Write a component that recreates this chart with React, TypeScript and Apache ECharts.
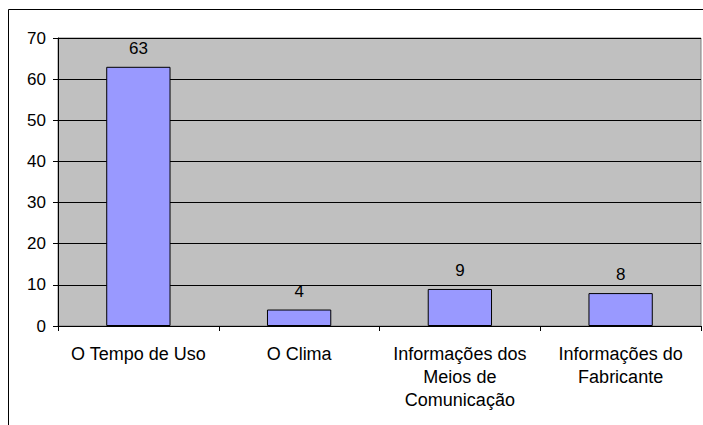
import React, { useEffect, useRef } from "react";
import * as echarts from "echarts";

// Fatores citados (quebras de linha como no rótulo do eixo)
const categories = [
  "O Tempo de Uso",
  "O Clima",
  "Informações dos\nMeios de\nComunicação",
  "Informações do\nFabricante",
];
const values = [63, 4, 9, 8];
const yTicks = { min: 0, max: 70, interval: 10 };

const FONT = "'Liberation Sans', Arial, sans-serif";

export default function App() {
  const ref = useRef<HTMLDivElement>(null);

  useEffect(() => {
    if (!ref.current) return;
    const chart = echarts.init(ref.current, undefined, { renderer: "svg" });
    chart.setOption({
      animation: false,
      backgroundColor: "#ffffff",
      textStyle: { fontFamily: FONT },
      graphic: [
        {
          type: "rect",
          shape: { x: 8.5, y: 9.5, width: 720, height: 440 },
          style: { fill: "none", stroke: "#000", lineWidth: 1 },
          silent: true,
        },
      ],
      grid: {
        left: 58,
        top: 38,
        right: 2,
        bottom: 99,
        show: true,
        backgroundColor: "#C0C0C0",
        borderColor: "#808080",
        borderWidth: 1,
      },
      xAxis: {
        type: "category",
        data: categories,
        boundaryGap: true,
        axisLine: { show: true, lineStyle: { color: "#000", width: 1 } },
        axisTick: { show: true, length: 5, lineStyle: { color: "#000" } },
        axisLabel: {
          color: "#000",
          fontSize: 18,
          fontFamily: FONT,
          lineHeight: 23,
          margin: 16,
          interval: 0,
          align: "center",
        },
      },
      yAxis: {
        type: "value",
        min: yTicks.min,
        max: yTicks.max,
        interval: yTicks.interval,
        axisLine: { show: true, lineStyle: { color: "#000", width: 1 } },
        axisTick: { show: true, length: 5, lineStyle: { color: "#000" } },
        axisLabel: { color: "#000", fontSize: 17, fontFamily: FONT, margin: 12 },
        splitLine: { show: true, lineStyle: { color: "#000", width: 1 } },
      },
      series: [
        {
          type: "bar",
          data: values,
          barWidth: "40%",
          itemStyle: { color: "#9999FF", borderColor: "#000", borderWidth: 1 },
          label: {
            show: true,
            position: "top",
            distance: 10,
            color: "#000",
            fontSize: 17,
            fontFamily: FONT,
          },
        },
      ],
    });
    return () => chart.dispose();
  }, []);

  return (
    <div
      ref={ref}
      style={{ position: "fixed", left: 0, top: 0, width: 703, height: 425 }}
    />
  );
}
